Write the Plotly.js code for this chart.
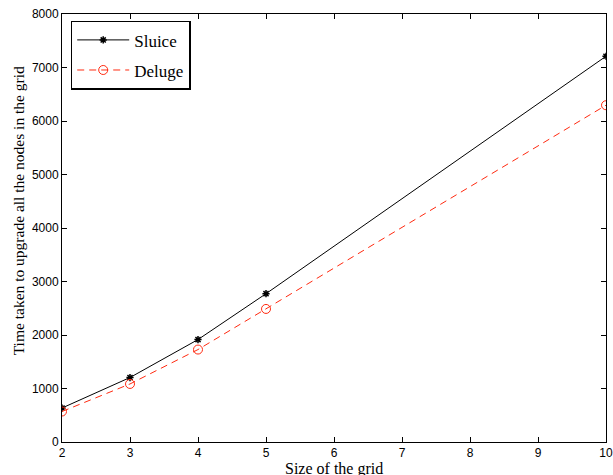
<!DOCTYPE html>
<html><head><meta charset="utf-8">
<script src="https://cdn.plot.ly/plotly-3.0.1.min.js"></script>
<style>html,body{margin:0;padding:0;background:#fff}</style>
</head><body>
<div id="chart" style="width:613px;height:475px"></div>
<script>
const gridSize = [2, 3, 4, 5, 10];
const sluice = [635, 1205, 1915, 2772, 7210];
const deluge = [570, 1085, 1728, 2487, 6295];
const yTicks = [0, 1000, 2000, 3000, 4000, 5000, 6000, 7000, 8000];
const xTicks = [2, 3, 4, 5, 6, 7, 8, 9, 10];
const xTitle = 'Size of the grid';
const yTitle = 'Time taken to upgrade all the nodes in the grid';

const serif = 'Liberation Serif, Times New Roman, serif';
const red = '#ff2a10';

const traces = [
  {x: gridSize, y: sluice, name: 'Sluice', legendgroup: 'a', mode: 'lines+markers', type: 'scatter',
   line: {color: '#000', width: 1},
   marker: {symbol: 'asterisk-open', size: 6, color: '#000', line: {color: '#000', width: 1.5}}},
  {x: gridSize, y: deluge, name: 'Deluge', legendgroup: 'b', mode: 'lines+markers', type: 'scatter',
   line: {color: red, width: 1, dash: '7px,5px'},
   marker: {symbol: 'circle-open', size: 9, color: red, line: {color: red, width: 1}}}
];

const axisCommon = {
  showline: true, linecolor: '#000', linewidth: 1, mirror: 'ticks',
  ticks: 'inside', ticklen: 5, tickcolor: '#000', showgrid: false, zeroline: false,
  tickfont: {family: 'Liberation Sans, Arial, sans-serif', size: 12, color: '#000'}
};

const layout = {
  width: 613, height: 475,
  margin: {l: 62, r: 7, t: 14, b: 33},
  paper_bgcolor: '#fff', plot_bgcolor: '#fff',
  showlegend: true,
  legend: {x: 0.016, y: 0.984, xanchor: 'left', yanchor: 'top',
    traceorder: 'grouped', tracegroupgap: 5,
    bgcolor: '#fff', bordercolor: '#000', borderwidth: 1.5, itemwidth: 52,
    font: {family: serif, size: 17, color: '#000'}},
  xaxis: Object.assign({}, axisCommon, {range: [2, 10], tickvals: xTicks, ticktext: xTicks.map(String)}),
  yaxis: Object.assign({}, axisCommon, {range: [0, 8000], tickvals: yTicks, ticktext: yTicks.map(String)}),
  annotations: [{
    text: yTitle, textangle: -90, showarrow: false,
    xref: 'paper', yref: 'paper', x: 0, y: 0.539, xanchor: 'center', yanchor: 'middle',
    xshift: -44, font: {family: serif, size: 15.5, color: '#000'}
  }, {
    text: xTitle, showarrow: false,
    xref: 'paper', yref: 'paper', x: 0.5, y: 0, xanchor: 'center', yanchor: 'top',
    yshift: -15.5, font: {family: serif, size: 16, color: '#000'}
  }]
};

Plotly.newPlot('chart', traces, layout, {displayModeBar: false, staticPlot: true});
</script>
</body></html>
